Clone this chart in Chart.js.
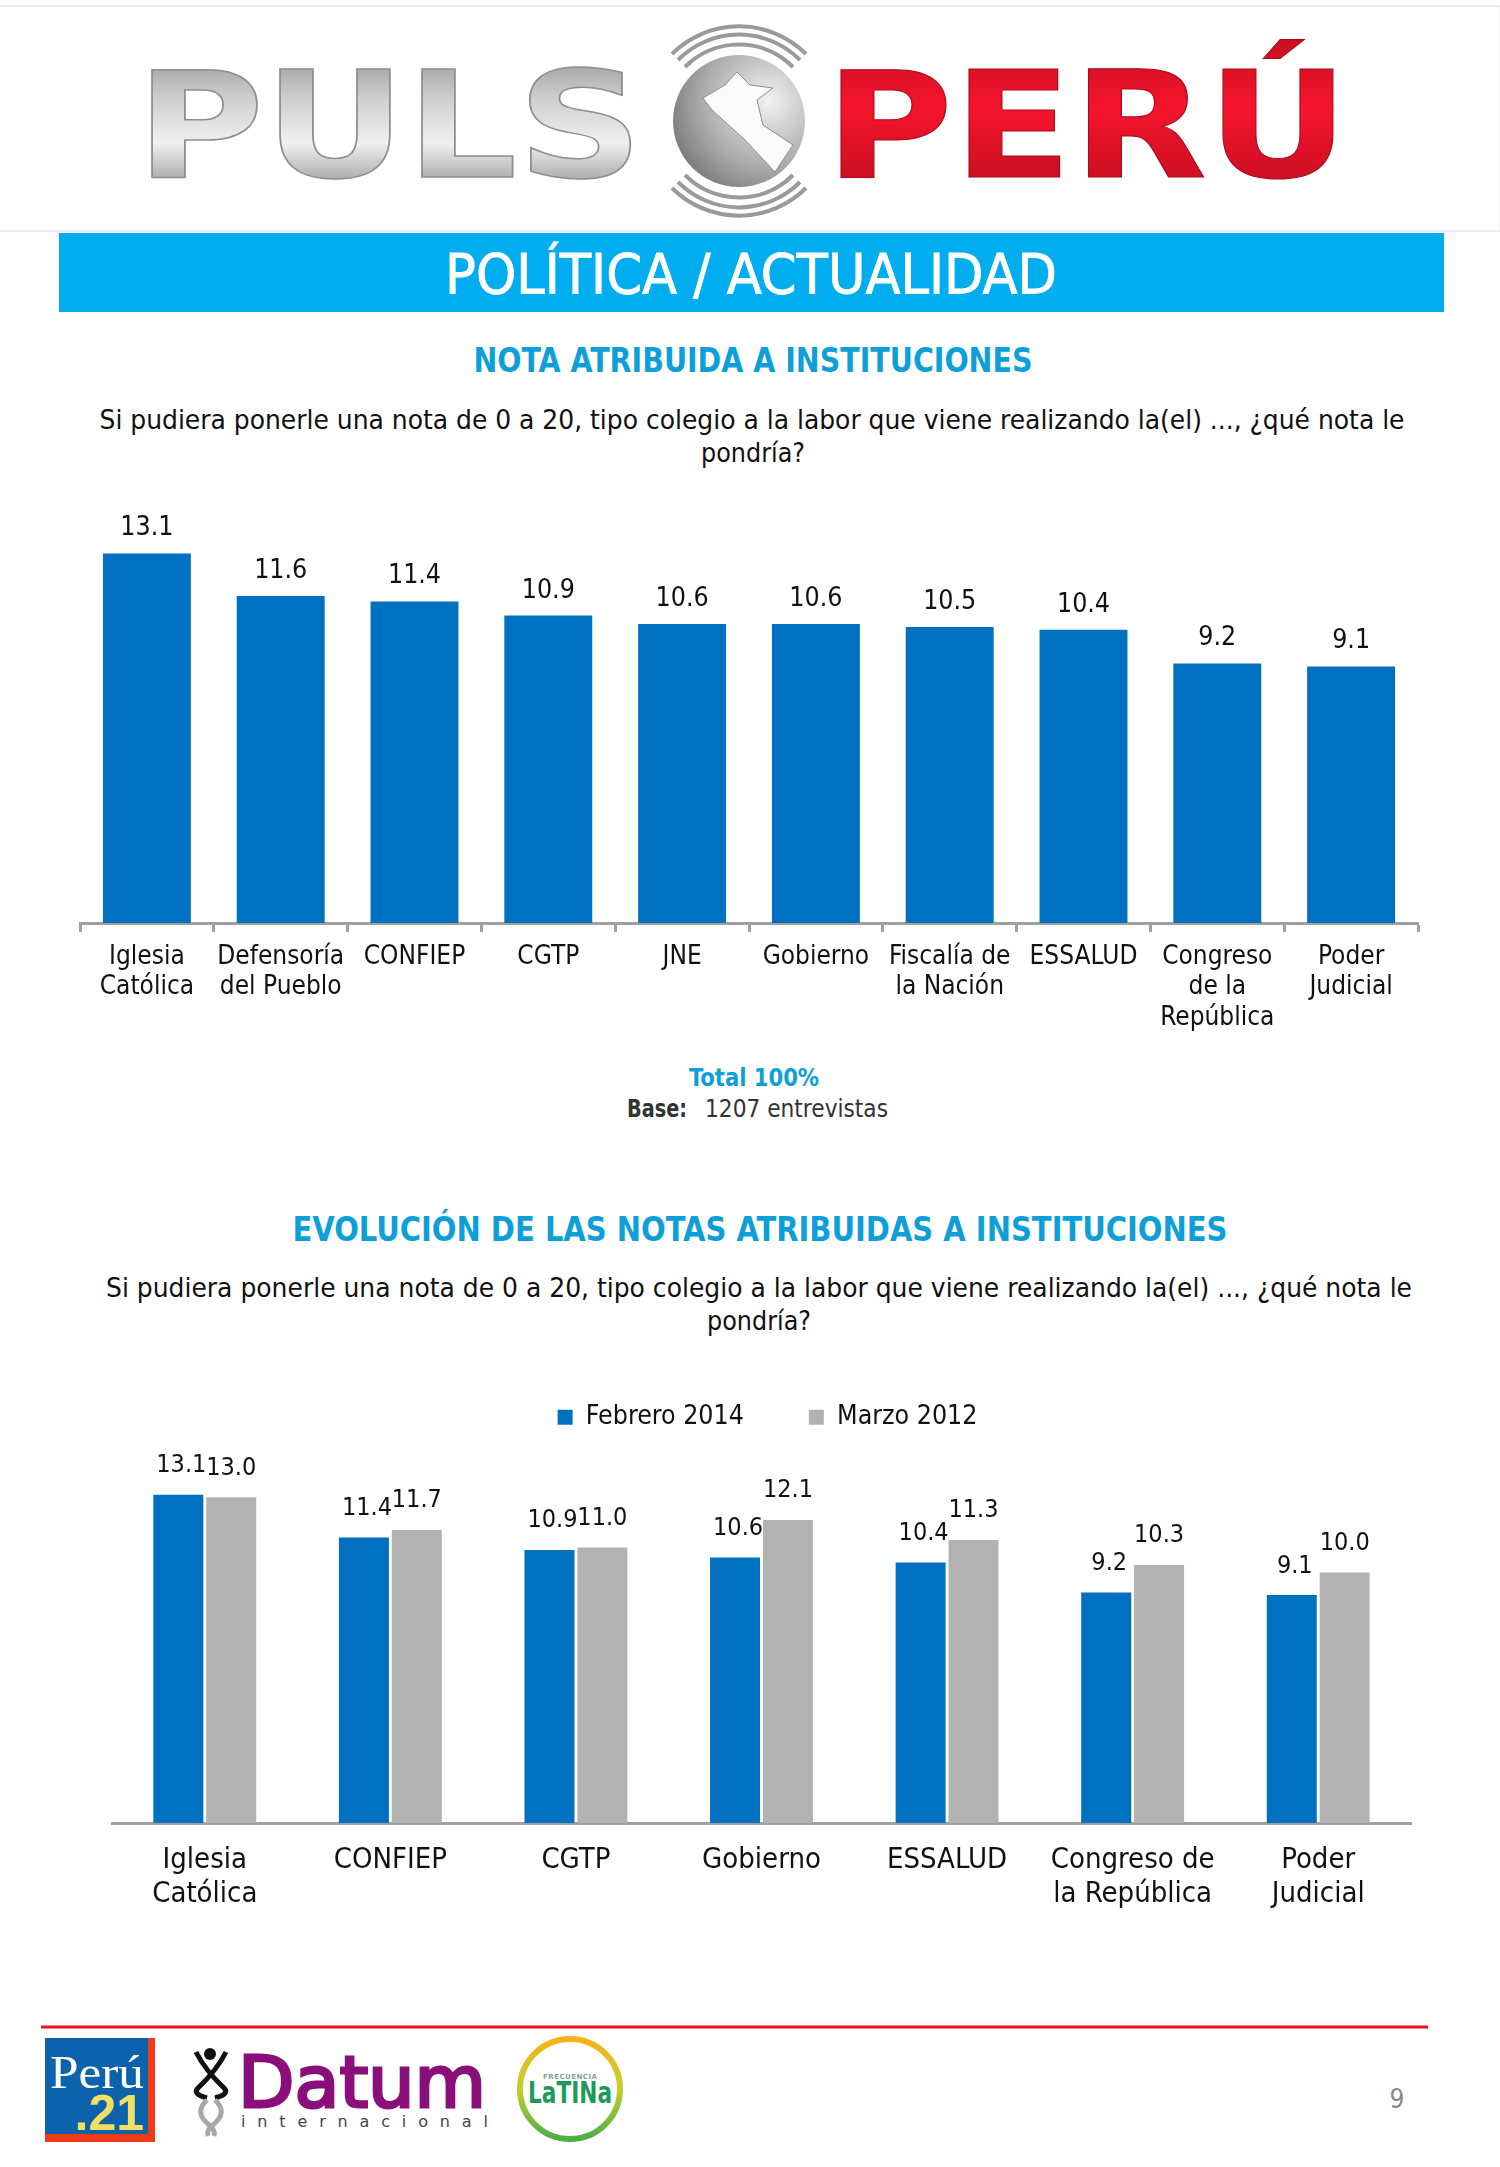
<!DOCTYPE html>
<html><head><meta charset="utf-8">
<script src="https://cdn.jsdelivr.net/npm/chart.js@4"></script>
<style>
html,body{margin:0;padding:0;background:#fff;width:1500px;height:2167px;overflow:hidden}
#page{position:relative;width:1500px;height:2167px}
svg.o{position:absolute;left:0;top:0}
.c{position:absolute;left:0}
text{font-family:"DejaVu Sans Condensed","DejaVu Sans",sans-serif}
</style></head><body><div id="page">
<svg class="o" width="1500" height="2167" viewBox="0 0 1500 2167">
<defs>
<linearGradient id="sil" x1="0" y1="0" x2="0" y2="1"><stop offset="0" stop-color="#8a8a8a"/><stop offset=".35" stop-color="#d0d0d0"/><stop offset=".6" stop-color="#f0f0f0"/><stop offset=".85" stop-color="#a0a0a0"/><stop offset="1" stop-color="#7a7a7a"/></linearGradient>
<linearGradient id="red" x1="0" y1="0" x2="0" y2="1"><stop offset="0" stop-color="#c80f22"/><stop offset=".4" stop-color="#f5142c"/><stop offset="1" stop-color="#b80d1e"/></linearGradient>
<radialGradient id="glo" cx=".72" cy=".35" r=".85"><stop offset="0" stop-color="#f2f2f2"/><stop offset=".6" stop-color="#a9a9a9"/><stop offset="1" stop-color="#6f6f6f"/></radialGradient>
<linearGradient id="lat" x1="0" y1="0" x2="0" y2="1"><stop offset="0" stop-color="#f5b31c"/><stop offset=".5" stop-color="#c4cf2c"/><stop offset="1" stop-color="#4fae46"/></linearGradient>
</defs>
<line x1="0" y1="6" x2="1500" y2="6" stroke="#e6e6e6" stroke-width="1.5"/>
<line x1="0" y1="231" x2="1500" y2="231" stroke="#e6e6e6" stroke-width="1.5"/>
<line x1="1499" y1="6" x2="1499" y2="231" stroke="#eeeeee" stroke-width="1"/>
<text x="136" y="177" font-size="148" font-weight="700" fill="url(#sil)" stroke="#8f8f8f" stroke-width="1.5" textLength="507" lengthAdjust="spacingAndGlyphs" style="font-family:'DejaVu Sans'">PULS</text>
<text x="825" y="177" font-size="148" font-weight="700" fill="url(#red)" stroke="#a80c1c" stroke-width="1" textLength="524" lengthAdjust="spacingAndGlyphs" style="font-family:'DejaVu Sans'">PERÚ</text>
<ellipse cx="739" cy="121" rx="66" ry="66" fill="url(#glo)"/>
<path d="M737 72 L750 85 L773 88 L757 100 L763 125 L793 145 L775 172 L745 140 L712 110 L703 98 L725 85 Z" fill="#fbfbfb" stroke="#8d8d8d" stroke-width="1"/>
<g fill="none" stroke="#9a9a9a" stroke-width="4">
<path d="M685 67 A76 76 0 0 1 793 67"/><path d="M678 60 A86 86 0 0 1 800 60"/><path d="M672 54 A95 95 0 0 1 806 54"/>
<path d="M685 175 A76 76 0 0 0 793 175"/><path d="M678 182 A86 86 0 0 0 800 182"/><path d="M672 188 A95 95 0 0 0 806 188"/>
</g>
<rect x="59" y="233" width="1385" height="79" fill="#00AEEF"/>
<text x="751" y="293" text-anchor="middle" font-size="55" fill="#fff" stroke="#fff" stroke-width="0.8" textLength="612" lengthAdjust="spacingAndGlyphs">POLÍTICA / ACTUALIDAD</text>
<text x="753" y="372" text-anchor="middle" font-size="33" font-weight="700" fill="#0E9FD8" textLength="559" lengthAdjust="spacingAndGlyphs">NOTA ATRIBUIDA A INSTITUCIONES</text>
<text x="752" y="429" text-anchor="middle" font-size="27" fill="#111" textLength="1305" lengthAdjust="spacingAndGlyphs">Si pudiera ponerle una nota de 0 a 20, tipo colegio a la labor que viene realizando la(el) ..., ¿qué nota le</text>
<text x="753" y="462" text-anchor="middle" font-size="27" fill="#111" textLength="104" lengthAdjust="spacingAndGlyphs">pondría?</text>
<text x="754" y="1086" text-anchor="middle" font-size="24" font-weight="700" fill="#0E9FD8" textLength="130" lengthAdjust="spacingAndGlyphs">Total 100%</text>
<text x="627" y="1117" font-size="24" font-weight="700" fill="#333" textLength="60" lengthAdjust="spacingAndGlyphs">Base:</text>
<text x="705" y="1117" font-size="24" fill="#333" textLength="183" lengthAdjust="spacingAndGlyphs">1207 entrevistas</text>
<text x="760" y="1241" text-anchor="middle" font-size="33" font-weight="700" fill="#0E9FD8" textLength="935" lengthAdjust="spacingAndGlyphs">EVOLUCIÓN DE LAS NOTAS ATRIBUIDAS A INSTITUCIONES</text>
<text x="759" y="1297" text-anchor="middle" font-size="27" fill="#111" textLength="1306" lengthAdjust="spacingAndGlyphs">Si pudiera ponerle una nota de 0 a 20, tipo colegio a la labor que viene realizando la(el) ..., ¿qué nota le</text>
<text x="759" y="1330" text-anchor="middle" font-size="27" fill="#111" textLength="104" lengthAdjust="spacingAndGlyphs">pondría?</text>
<line x1="41" y1="2027" x2="1428" y2="2027" stroke="#E8141C" stroke-width="3"/>
<rect x="45" y="2038" width="110" height="104" fill="#F03A16"/>
<rect x="45" y="2038" width="103" height="96" fill="#0D62AC"/>
<text x="97" y="2088" text-anchor="middle" font-size="46" fill="#fff" style="font-family:'Liberation Serif'" textLength="94" lengthAdjust="spacingAndGlyphs">Perú</text>
<text x="144" y="2130" text-anchor="end" font-size="50" font-weight="700" fill="#F1DF62" style="font-family:'Liberation Sans'">.21</text>
<g fill="none" stroke-width="5">
<path d="M196 2052 Q205 2070 224 2088 Q230 2094 215 2098" stroke="#111"/><path d="M226 2052 Q217 2070 198 2088 Q192 2094 207 2098" stroke="#111"/>
<path d="M207 2100 Q194 2112 208 2124 Q216 2130 214 2136" stroke="#a8a8a8"/><path d="M215 2100 Q228 2112 214 2124 Q206 2130 208 2136" stroke="#a8a8a8"/>
</g>
<circle cx="210" cy="2054" r="6" fill="#111"/>
<text x="238" y="2107" font-size="72" fill="#8A0F7A" textLength="248" lengthAdjust="spacingAndGlyphs" stroke="#8A0F7A" stroke-width="3" style="font-family:'DejaVu Sans'">Datum</text>
<text x="241" y="2127" font-size="16" fill="#444" textLength="247" style="font-family:'DejaVu Sans'">internacional</text>
<circle cx="570" cy="2089" r="50" fill="none" stroke="url(#lat)" stroke-width="6"/>
<text x="570" y="2079" text-anchor="middle" font-size="7" font-weight="700" fill="#7fa88a" textLength="54" style="font-family:'DejaVu Sans'">FRECUENCIA</text>
<text x="570" y="2103" text-anchor="middle" font-size="30" font-weight="700" fill="#1E9A5A" textLength="84" lengthAdjust="spacingAndGlyphs" style="font-family:'DejaVu Sans'">LaTINa</text>
<text x="1397" y="2108" text-anchor="middle" font-size="26" fill="#888">9</text>
</svg>
<canvas id="c1" class="c" style="top:500px" width="1500" height="540"></canvas>
<canvas id="c2" class="c" style="top:1339px" width="1500" height="616"></canvas>
</div>
<script>
const categories1 = [["Iglesia","Católica"],["Defensoría","del Pueblo"],"CONFIEP","CGTP","JNE","Gobierno",["Fiscalía de","la Nación"],"ESSALUD",["Congreso","de la","República"],["Poder","Judicial"]];
const notas1 = [13.1,11.6,11.4,10.9,10.6,10.6,10.5,10.4,9.2,9.1];
const categories2 = [["Iglesia","Católica"],"CONFIEP","CGTP","Gobierno","ESSALUD",["Congreso de","la República"],["Poder","Judicial"]];
const febrero2014 = [13.1,11.4,10.9,10.6,10.4,9.2,9.1];
const marzo2012 = [13.0,11.7,11.0,12.1,11.3,10.3,10.0];
const FONT = '"DejaVu Sans Condensed","DejaVu Sans",sans-serif';
Chart.defaults.animation = false;
Chart.defaults.responsive = false;
Chart.defaults.font.family = FONT;
const valueLabels = {
  id:'valueLabels',
  afterDatasetsDraw(chart,args,opts){
    const c = chart.ctx; c.save();
    c.font = opts.size+'px '+FONT; c.fillStyle='#111'; c.textAlign='center'; c.textBaseline='middle';
    chart.data.datasets.forEach((ds,di)=>{
      chart.getDatasetMeta(di).data.forEach((el,i)=>{
        c.fillText(ds.data[i].toFixed(1), el.x+(opts.dx?opts.dx[di]:0), el.y-opts.gap);
      });
    });
    c.restore();
  }
};
const legendShift = {id:'legendShift',afterLayout(chart,a,o){ if(chart.legend){chart.legend.left+=o.dx;chart.legend.right+=o.dx;} }};
new Chart(document.getElementById('c1'),{
  type:'bar',
  data:{labels:categories1,datasets:[{data:notas1,backgroundColor:'#0070C0',barPercentage:1,categoryPercentage:0.657}]},
  options:{
    layout:{padding:{left:80,right:82,top:0,bottom:0}},
    plugins:{legend:{display:false},tooltip:{enabled:false},valueLabels:{size:26.5,gap:25}},
    scales:{
      y:{display:false,min:0,max:15},
      x:{afterFit(s){s.height=117;},
         border:{color:'#a0a0a0',width:3},
         grid:{offset:true,drawOnChartArea:false,drawTicks:true,tickLength:9,tickColor:'#a0a0a0',tickWidth:3},
         ticks:{color:'#111',font:{size:26,lineHeight:1.17},padding:10,maxRotation:0,autoSkip:false}}
    }
  },
  plugins:[valueLabels]
});
new Chart(document.getElementById('c2'),{
  type:'bar',
  data:{labels:categories2,datasets:[
    {label:'Febrero 2014',data:febrero2014,backgroundColor:'#0070C0',barPercentage:0.945,categoryPercentage:0.57},
    {label:'Marzo 2012',data:marzo2012,backgroundColor:'#B2B2B2',barPercentage:0.945,categoryPercentage:0.57}]},
  options:{
    layout:{padding:{left:112,right:89,top:0,bottom:0}},
    plugins:{tooltip:{enabled:false},valueLabels:{size:25,gap:29,dx:[3,0]},legendShift:{dx:6},
      legend:{display:true,position:'top',labels:{boxWidth:15,boxHeight:15,padding:65,color:'#111',font:{size:26.5}}}},
    scales:{
      y:{display:false,min:0,max:15.27},
      x:{afterFit(s){s.height=132;},
         border:{color:'#a0a0a0',width:3},
         grid:{display:false,drawTicks:false},
         ticks:{color:'#111',font:{size:29,lineHeight:1.17},padding:21,maxRotation:0,autoSkip:false}}
    }
  },
  plugins:[valueLabels,legendShift]
});
</script></body></html>
